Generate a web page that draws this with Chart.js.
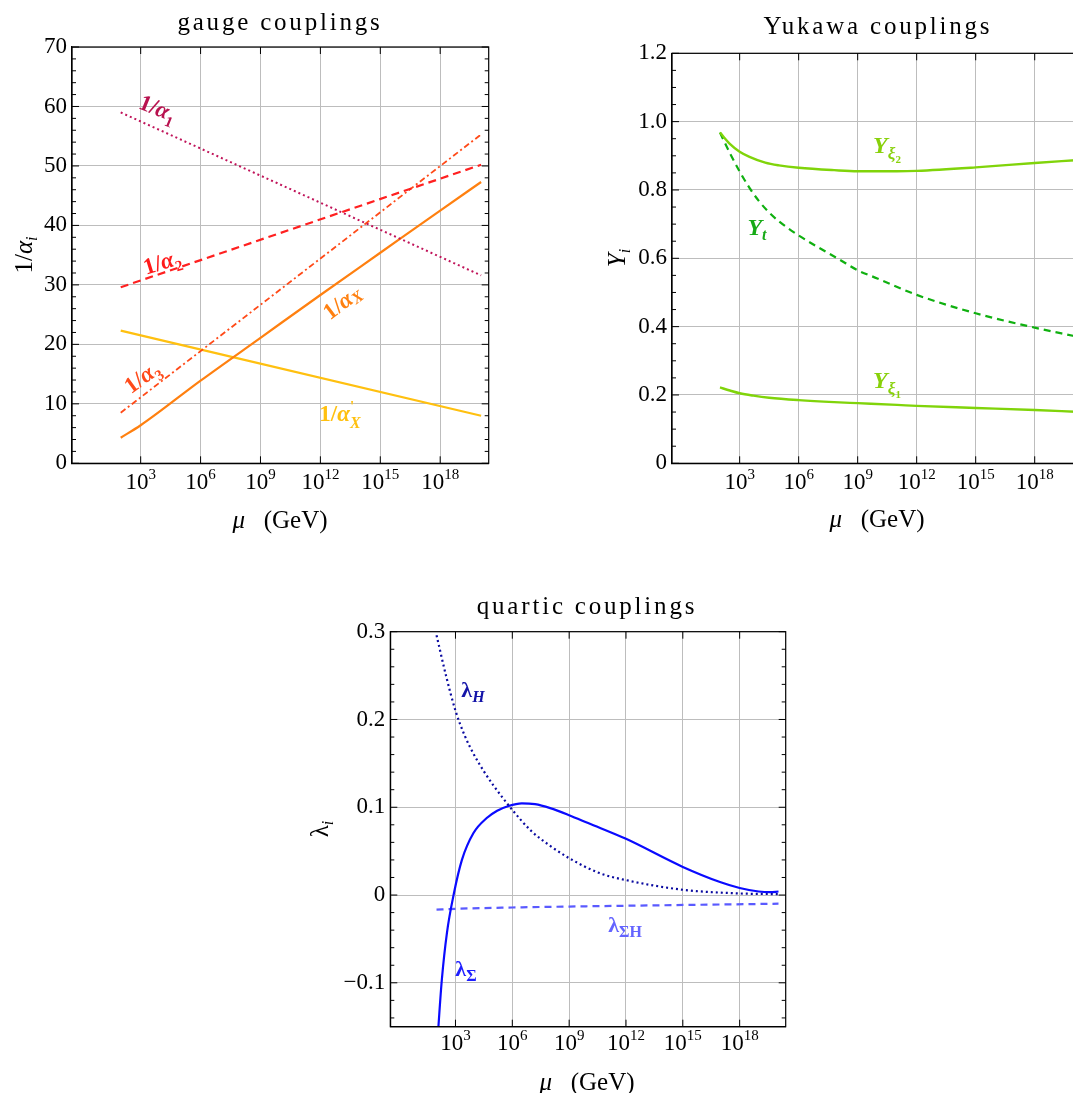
<!DOCTYPE html>
<html>
<head>
<meta charset="utf-8">
<title>running couplings</title>
<script src="https://cdn.jsdelivr.net/npm/chart.js@4.4.1/dist/chart.umd.min.js"></script>
<style>
  html, body { margin: 0; padding: 0; background: #fff; overflow: hidden; width: 1073px; height: 1093px; }
  canvas { position: absolute; }
</style>
</head>
<body>
<canvas id="gauge" width="500" height="540" style="left:0px;top:0px"></canvas>
<canvas id="yukawa" width="530" height="540" style="left:560px;top:0px"></canvas>
<canvas id="quartic" width="510" height="523" style="left:290px;top:570px"></canvas>
<script>
// x values are log10(mu / GeV)
const xTickExp = [3, 6, 9, 12, 15, 18];

// gauge couplings
const gaugeMu = [2, 20.05];
const invAlpha1 = [59.0, 31.6];
const invAlpha2 = [29.6, 50.2];
const invAlpha3 = [8.5, 55.3];
const gaugeMuX = [2, 3, 6, 9, 12, 15, 18, 20.05];
const invAlphaX = [4.3, 6.4, 13.9, 21.1, 28.3, 35.4, 42.5, 47.3];
const invAlphaXp = [22.3, 8.0];

// yukawa couplings
const yTopMu = [2, 2.5, 3, 3.5, 4, 4.5, 5, 6, 7, 8, 9, 10, 12, 15, 18, 20.05];
const yTop = [0.968, 0.908, 0.854, 0.806, 0.766, 0.734, 0.708, 0.667, 0.632, 0.599, 0.565, 0.541, 0.493, 0.439, 0.397, 0.372];
const yXi2Mu = [2, 2.5, 3, 3.5, 4.3, 5, 6, 7.8, 9, 11, 12, 15, 18, 20.05];
const yXi2 = [0.968, 0.935, 0.912, 0.897, 0.880, 0.872, 0.865, 0.858, 0.855, 0.855, 0.856, 0.866, 0.879, 0.887];
const yXi1Mu = [2, 2.5, 3, 3.7, 4.5, 6, 7.8, 9, 11, 12, 15, 18, 20.05];
const yXi1 = [0.222, 0.213, 0.205, 0.198, 0.192, 0.185, 0.179, 0.176, 0.171, 0.168, 0.162, 0.156, 0.151];

// quartic couplings
const lamHMu = [2, 2.5, 3, 3.5, 4, 4.5, 5, 6, 7, 8, 9, 10.6, 12, 15, 18, 20.05];
const lamH = [0.296, 0.250, 0.210, 0.181, 0.159, 0.141, 0.125, 0.097, 0.073, 0.056, 0.042, 0.025, 0.017, 0.006, 0.0018, 0.001];
const lamSMu = [2, 2.1, 2.28, 2.55, 2.9, 3.34, 3.95, 4.65, 5.2, 5.8, 6.5, 7.2, 8, 9, 10, 12, 15, 17, 18, 19, 19.6, 20.05];
const lamS = [-0.185, -0.15, -0.0965, -0.043, 0, 0.040, 0.0706, 0.0877, 0.096, 0.1015, 0.1045, 0.1035, 0.099, 0.091, 0.082, 0.064, 0.032, 0.0145, 0.008, 0.004, 0.0032, 0.004];
const lamSHMu = [2, 3, 6, 9, 12, 20.05];
const lamSH = [-0.0167, -0.0157, -0.0142, -0.0131, -0.0122, -0.0099];

const X_MIN = -0.44, X_MAX = 20.43;
const SERIF = '"Liberation Serif", "Times New Roman", serif';
const GRID = '#bdbdbd';

function fnt(size, style) { return (style || '') + ' ' + size + 'px ' + SERIF; }

// parts: [text, size, style, dy, noAdvance]
function drawRich(ctx, parts, x, y, angle, color, spacing) {
  ctx.save();
  ctx.translate(x, y);
  ctx.rotate((angle || 0) * Math.PI / 180);
  ctx.fillStyle = color;
  ctx.textBaseline = 'alphabetic';
  ctx.textAlign = 'left';
  if (spacing) ctx.letterSpacing = spacing;
  let w = 0;
  parts.forEach(p => { ctx.font = fnt(p[1], p[2]); if (!p[4]) w += ctx.measureText(p[0]).width; });
  let cx = -w / 2;
  const base = parts[0][1] * 0.33;
  parts.forEach(p => {
    ctx.font = fnt(p[1], p[2]);
    ctx.fillText(p[0], cx, base + (p[3] || 0));
    if (!p[4]) cx += ctx.measureText(p[0]).width;
  });
  ctx.restore();
}

const decor = {
  id: 'decor',
  afterDraw(chart, args, o) {
    const ctx = chart.ctx, a = chart.chartArea;
    const xs = chart.scales.x, ys = chart.scales.y;
    ctx.save();
    ctx.strokeStyle = '#000';
    ctx.lineWidth = 1.2;
    ctx.strokeRect(a.left, a.top, a.right - a.left, a.bottom - a.top);
    ctx.lineWidth = 1;
    ctx.beginPath();
    const k0 = Math.ceil(ys.min / o.minor - 1e-6), k1 = Math.floor(ys.max / o.minor + 1e-6);
    for (let k = k0; k <= k1; k++) {
      const v = k * o.minor;
      const r = v / o.major;
      const len = Math.abs(r - Math.round(r)) < 1e-6 ? 7 : 4;
      const py = ys.getPixelForValue(v);
      ctx.moveTo(a.left, py); ctx.lineTo(a.left + len, py);
      ctx.moveTo(a.right, py); ctx.lineTo(a.right - len, py);
    }
    xTickExp.forEach(t => {
      const px = xs.getPixelForValue(t);
      ctx.moveTo(px, a.bottom); ctx.lineTo(px, a.bottom - 7);
      ctx.moveTo(px, a.top); ctx.lineTo(px, a.top + 7);
    });
    ctx.stroke();
    ctx.restore();

    xTickExp.forEach(t => {
      drawRich(ctx, [['10', 23], [String(t), 15, '', -10]], xs.getPixelForValue(t), o.xTickY, 0, '#000');
    });
    drawRich(ctx, [[o.title, 25]], o.titlePos[0], o.titlePos[1], 0, '#000', '2.8px');
    drawRich(ctx, o.yTitle, o.yTitlePos[0], o.yTitlePos[1], -90, '#000');
    drawRich(ctx, [['μ', 25, 'italic'], ['   (GeV)', 25]], o.xTitlePos[0], o.xTitlePos[1], 0, '#000');
    o.labels.forEach(l => drawRich(ctx, l.parts, l.x, l.y, l.angle, l.color));
  }
};

function series(xs, ys, color, width, dash) {
  return {
    data: xs.map((x, i) => ({ x: x, y: ys[i] })),
    borderColor: color,
    borderWidth: width,
    borderDash: dash,
    pointRadius: 0,
    fill: false,
    cubicInterpolationMode: 'monotone'
  };
}

function makeOptions(cfg) {
  return {
    responsive: false,
    animation: false,
    events: [],
    layout: { padding: { top: cfg.top, right: cfg.right, left: 0, bottom: 0 } },
    plugins: { legend: { display: false }, tooltip: { enabled: false }, title: { display: false }, decor: cfg.decor },
    scales: {
      x: {
        type: 'linear', min: X_MIN, max: X_MAX,
        afterBuildTicks: s => { s.ticks = xTickExp.map(v => ({ value: v })); },
        afterFit: s => { s.height = cfg.xh; },
        ticks: { display: false },
        grid: { color: GRID, lineWidth: 1, drawTicks: false },
        border: { color: '#000', width: 1.2 }
      },
      y: {
        type: 'linear', min: cfg.ymin, max: cfg.ymax,
        afterBuildTicks: s => { s.ticks = cfg.yTicks.map(v => ({ value: v })); },
        afterFit: s => { s.width = cfg.yw; },
        ticks: { color: '#000', padding: 5, font: { family: SERIF, size: 23 }, callback: cfg.fmt },
        grid: { color: GRID, lineWidth: 1, drawTicks: false },
        border: { color: '#000', width: 1.2 }
      }
    }
  };
}

const B = 'bold', BI = 'bold italic';

new Chart(document.getElementById('gauge'), {
  type: 'line',
  data: {
    datasets: [
      series(gaugeMu, invAlpha1, '#c0145a', 2, [2, 3]),
      series(gaugeMu, invAlpha2, '#ff2020', 2.2, [8, 5]),
      series(gaugeMu, invAlpha3, '#ff4a18', 1.8, [6, 3, 2, 3]),
      series(gaugeMuX, invAlphaX, '#ff8010', 2.2, []),
      series(gaugeMu, invAlphaXp, '#ffc010', 2.2, [])
    ]
  },
  options: makeOptions({
    top: 47, right: 11.3, xh: 76.7, yw: 72,
    ymin: 0, ymax: 70, yTicks: [0, 10, 20, 30, 40, 50, 60, 70],
    fmt: v => String(v),
    decor: {
      minor: 2, major: 10, xTickY: 481,
      title: 'gauge couplings', titlePos: [280, 22],
      yTitle: [['1/', 25], ['α', 25, 'italic'], ['i', 16, 'italic', 5]], yTitlePos: [24, 255],
      xTitlePos: [280, 520],
      labels: [
        { parts: [['1/', 23, B], ['α', 23, BI], ['1', 15, B, 6]], x: 158, y: 108, angle: 22, color: '#b8124f' },
        { parts: [['1/', 23, B], ['α', 23, BI], ['2', 15, B, 6]], x: 162, y: 262, angle: -17, color: '#ff1a1a' },
        { parts: [['1/', 23, B], ['α', 23, BI], ['3', 15, B, 6]], x: 142, y: 377, angle: -36, color: '#ff4a1a' },
        { parts: [['1/', 23, B], ['α', 23, BI], ['X', 16, BI, 3]], x: 342, y: 302, angle: -37, color: '#ff8010' },
        { parts: [['1/', 23, B], ['α', 23, BI], ["'", 15, B, -10, true], ['X', 16, BI, 7]], x: 340, y: 413, angle: 0, color: '#ffc010' }
      ]
    }
  }),
  plugins: [decor]
});

new Chart(document.getElementById('yukawa'), {
  type: 'line',
  data: {
    datasets: [
      series(yXi2Mu, yXi2, '#80d40a', 2.4, []),
      series(yTopMu, yTop, '#10b010', 2.2, [7, 5]),
      series(yXi1Mu, yXi1, '#80d40a', 2.4, [])
    ]
  },
  options: makeOptions({
    top: 53.3, right: 7.5, xh: 76.7, yw: 112,
    ymin: 0, ymax: 1.2, yTicks: [0, 0.2, 0.4, 0.6, 0.8, 1.0, 1.2],
    fmt: v => (v === 0 ? '0' : v.toFixed(1)),
    decor: {
      minor: 0.05, major: 0.2, xTickY: 481,
      title: 'Yukawa couplings', titlePos: [318, 26],
      yTitle: [['Y', 25, 'italic'], ['i', 16, 'italic', 5]], yTitlePos: [57, 258],
      xTitlePos: [317, 519],
      labels: [
        { parts: [['Y', 24, BI], ['ξ', 17, BI, 6], ['2', 11, B, 10]], x: 327, y: 145, angle: 0, color: '#88d10a' },
        { parts: [['Y', 24, BI], ['t', 16, BI, 5]], x: 197, y: 227, angle: 0, color: '#16aa16' },
        { parts: [['Y', 24, BI], ['ξ', 17, BI, 6], ['1', 11, B, 10]], x: 327, y: 380, angle: 0, color: '#88d10a' }
      ]
    }
  }),
  plugins: [decor]
});

new Chart(document.getElementById('quartic'), {
  type: 'line',
  data: {
    datasets: [
      series(lamHMu, lamH, '#0a0aa0', 2.2, [2, 3]),
      series(lamSMu, lamS, '#0a0aff', 2.2, []),
      series(lamSHMu, lamSH, '#5a5aff', 2.2, [7, 5])
    ]
  },
  options: makeOptions({
    top: 61.7, right: 14.3, xh: 66.3, yw: 100.3,
    ymin: -0.15, ymax: 0.3, yTicks: [-0.1, 0, 0.1, 0.2, 0.3],
    fmt: v => (v === 0 ? '0' : (v < 0 ? '\u2212' + Math.abs(v).toFixed(1) : v.toFixed(1))),
    decor: {
      minor: 0.02, major: 0.1, xTickY: 472,
      title: 'quartic couplings', titlePos: [297, 36],
      yTitle: [['λ', 25], ['i', 16, 'italic', 5]], yTitlePos: [30, 259],
      xTitlePos: [297, 512],
      labels: [
        { parts: [['λ', 22, B], ['H', 16, BI, 5]], x: 183, y: 120, angle: 0, color: '#1414a8' },
        { parts: [['λ', 22, B], ['Σ', 16, B, 5]], x: 176, y: 399, angle: 0, color: '#1e1eff' },
        { parts: [['λ', 22, B], ['ΣH', 16, B, 5]], x: 335, y: 355, angle: 0, color: '#6464ff' }
      ]
    }
  }),
  plugins: [decor]
});
</script>
</body>
</html>
